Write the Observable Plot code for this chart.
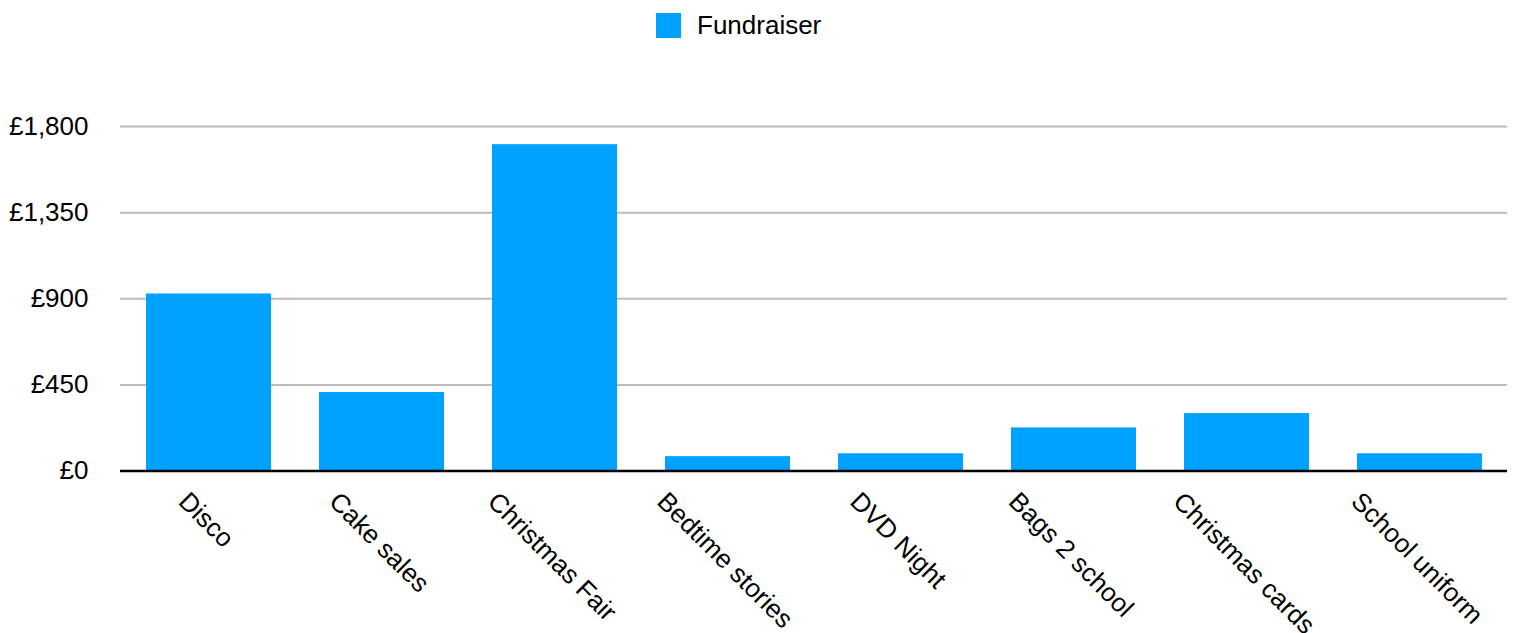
<!DOCTYPE html>
<html>
<head>
<meta charset="utf-8">
<script src="https://cdn.jsdelivr.net/npm/d3@7"></script>
<script src="https://cdn.jsdelivr.net/npm/@observablehq/plot@0.6"></script>
<style>
  html, body { margin: 0; padding: 0; background: #fff; }
  body { width: 1515px; height: 633px; overflow: hidden; font-family: "Liberation Sans", Arial, Helvetica, sans-serif; }
  #legend { position: relative; height: 60px; width: 1515px; }
  #legend .sw { position: absolute; left: 656px; top: 13px; width: 25px; height: 25px; background: #00a2ff; }
  #legend .lb { position: absolute; left: 697px; top: 13px; font-size: 26px; line-height: 25px; color: #000; white-space: nowrap; }
  svg { display: block; }
</style>
</head>
<body>
<div id="legend"><div class="sw"></div><div class="lb">Fundraiser</div></div>
<div id="chart"></div>
<script>
const categories = ["Disco", "Cake sales", "Christmas Fair", "Bedtime stories", "DVD Night", "Bags 2 school", "Christmas cards", "School uniform"];
const amounts = [925, 410, 1705, 75, 90, 225, 300, 90];
const yTicks = [0, 450, 900, 1350, 1800];
const seriesName = "Fundraiser";

const data = categories.map((c, i) => ({category: c, amount: amounts[i], series: seriesName}));

const FONT_SIZE = 26;
const FONT = `${FONT_SIZE}px "Liberation Sans", Arial, sans-serif`;
const ctx = document.createElement("canvas").getContext("2d");
ctx.font = FONT;
const capH = 0.716 * FONT_SIZE;
const s45 = Math.SQRT1_2;
const labelTopGap = 19.5;

const labelMarks = categories.map(c => {
  const L = ctx.measureText(c).width;
  const dy = labelTopGap + (L + capH) * s45 / 2;
  return Plot.text([c], {
    x: d => d,
    frameAnchor: "bottom",
    rotate: 45,
    textAnchor: "middle",
    lineAnchor: "middle",
    fontSize: FONT_SIZE,
    fill: "#000",
    dx: -3,
    dy
  });
});

const chart = Plot.plot({
  width: 1515,
  height: 573,
  marginLeft: 120,
  marginRight: 8,
  marginTop: 66,
  marginBottom: 162.5,
  style: {fontFamily: '"Liberation Sans", Arial, sans-serif', fontSize: "26px", color: "#000", background: "#fff"},
  x: {type: "band", domain: categories, paddingInner: 0.28, paddingOuter: 0.14, axis: null},
  y: {domain: [0, 1800], ticks: yTicks, axis: null},
  marks: [
    Plot.ruleY(yTicks.filter(d => d > 0), {stroke: "#bcbcbc", strokeWidth: 2}),
    Plot.barY(data, {x: "category", y: "amount", fill: "#00a2ff"}),
    Plot.ruleY([0], {stroke: "#000", strokeWidth: 2.5}),
    Plot.axisY(yTicks, {
      tickSize: 0,
      tickPadding: 32,
      fontSize: FONT_SIZE,
      label: null,
      tickFormat: d => "£" + d3.format(",")(d),
      fill: "#000"
    }),
    ...labelMarks
  ]
});
document.getElementById("chart").appendChild(chart);
</script>
</body>
</html>
